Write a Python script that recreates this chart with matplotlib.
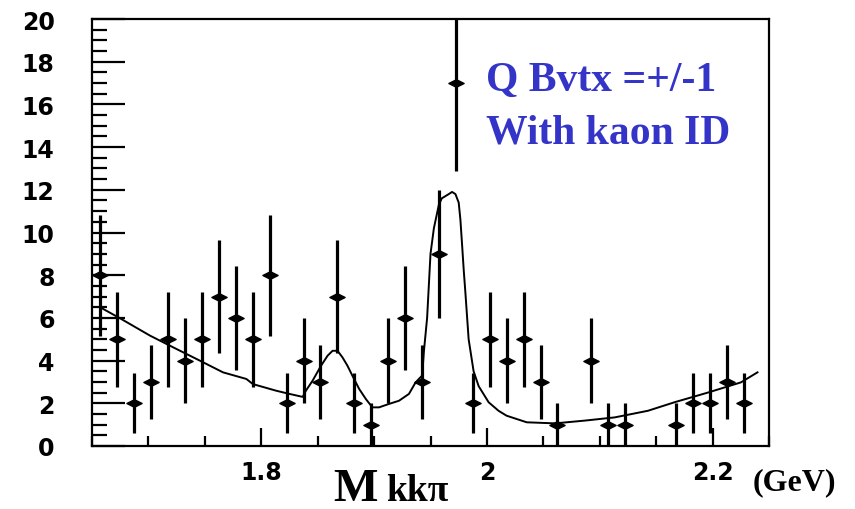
import numpy as np
import matplotlib
matplotlib.use("Agg")
import matplotlib.pyplot as plt
from matplotlib.path import Path
from matplotlib.ticker import MultipleLocator, FixedLocator

# ---- data ----
bin_lo = 1.65
bin_width = 0.015
counts = [8, 5, 2, 3, 5, 4, 5, 7, 6, 5,
          8, 2, 4, 3, 7, 2, 1, 4, 6, 3,
          9, 17, 2, 5, 4, 5, 3, 1, 0, 4,
          1, 1, 0, 0, 1, 2, 2, 3, 2, 0]

fit_x = [1.6588, 1.6749, 1.7014, 1.7220, 1.7455, 1.7661, 1.7868, 1.7926,
         1.8132, 1.8250, 1.8367, 1.8397, 1.8455, 1.8530, 1.8588, 1.8632,
         1.8676, 1.8720, 1.8764, 1.8808, 1.8868, 1.8927, 1.8985, 1.9044,
         1.9132, 1.9221, 1.9309, 1.9368, 1.9426, 1.9441, 1.9470, 1.9485,
         1.9500, 1.9530, 1.9574, 1.9600, 1.9662, 1.9691, 1.9721, 1.9750,
         1.9765, 1.9779, 1.9795, 1.9809, 1.9838, 1.9882, 1.9927, 2.0015,
         2.0103, 2.0174, 2.0353, 2.0604, 2.0868, 2.1133, 2.1427, 2.1663,
         2.1957, 2.2251, 2.2398]
fit_y = [6.45, 5.98, 5.17, 4.62, 4.00, 3.45, 3.14, 2.90,
         2.59, 2.44, 2.30, 2.60, 3.06, 3.76, 4.23, 4.46,
         4.46, 4.15, 3.76, 3.29, 2.67, 2.20, 1.81, 1.81,
         1.97, 2.12, 2.44, 2.98, 3.30, 4.40, 6.00, 7.50,
         9.00, 10.20, 11.30, 11.60, 11.80, 11.90, 11.80, 11.40,
         10.60, 9.50, 8.20, 7.20, 5.00, 3.50, 2.80, 2.05,
         1.65, 1.42, 1.11, 1.06, 1.19, 1.34, 1.65, 2.05,
         2.50, 2.98, 3.45]

x_major = [1.8, 2.0, 2.2]
x_labels = ["1.8", "2", "2.2"]
y_major = [0, 2, 4, 6, 8, 10, 12, 14, 16, 18, 20]

label_lines = ["Q Bvtx =+/-1", "With kaon ID"]
xlabel_main = "M"
xlabel_sub = "kkπ"
unit_label = "(GeV)"

# ---- figure ----
fig = plt.figure(figsize=(8.55, 5.10), dpi=100)
ax = fig.add_axes([92/855, 63/510, 677/855, 427/510])

c = np.array(counts, dtype=float)
xc = bin_lo + bin_width * (np.arange(len(c)) + 0.5)
m = c > 0
diamond = Path([(-1, 0), (0, 0.5), (1, 0), (0, -0.5), (-1, 0)],
               [Path.MOVETO, Path.LINETO, Path.LINETO, Path.LINETO, Path.CLOSEPOLY])
ax.errorbar(xc[m], c[m], yerr=np.sqrt(c[m]), fmt='none', ecolor='black',
            elinewidth=2.3, capsize=0, zorder=3)
ax.plot(xc[m], c[m], linestyle='none', marker=diamond, markersize=11,
        color='black', zorder=4)
ax.plot(fit_x, fit_y, color='black', lw=1.4, zorder=2)

ax.set_xlim(1.65, 2.25)
ax.set_ylim(0, 20)

for s in ax.spines.values():
    s.set_linewidth(1.6)

ax.xaxis.set_major_locator(FixedLocator(x_major))
ax.set_xticklabels(x_labels)
ax.xaxis.set_minor_locator(MultipleLocator(0.05))
ax.yaxis.set_major_locator(FixedLocator(y_major))
ax.yaxis.set_minor_locator(MultipleLocator(0.5))

ax.tick_params(axis='y', which='major', direction='in', length=24, width=1.6,
               pad=27, labelsize=17)
ax.tick_params(axis='y', which='minor', direction='in', length=11, width=1.6)
ax.tick_params(axis='x', which='major', direction='in', length=13, width=1.6,
               pad=10, labelsize=17)
ax.tick_params(axis='x', which='minor', direction='in', length=7.5, width=1.6)
for lab in ax.get_xticklabels() + ax.get_yticklabels():
    lab.set_fontweight('bold')
    lab.set_family('DejaVu Sans')

blue = '#3434C8'
fig.text(486/855, 1 - 91/510, label_lines[0], color=blue, fontsize=30,
         fontweight='bold', family='Liberation Serif', va='baseline', ha='left')
fig.text(486/855, 1 - 143/510, label_lines[1], color=blue, fontsize=30,
         fontweight='bold', family='Liberation Serif', va='baseline', ha='left')

fig.text(333/855, 1 - 501/510, xlabel_main, fontsize=34, fontweight='bold',
         family='Liberation Serif', va='baseline', ha='left')
fig.text(386/855, 1 - 501/510, xlabel_sub, fontsize=27, fontweight='bold',
         family='Liberation Serif', va='baseline', ha='left')
fig.text(753/855, 1 - 490/510, unit_label, fontsize=23, fontweight='bold',
         family='Liberation Serif', va='baseline', ha='left')

fig.savefig('out.png', dpi=100)
